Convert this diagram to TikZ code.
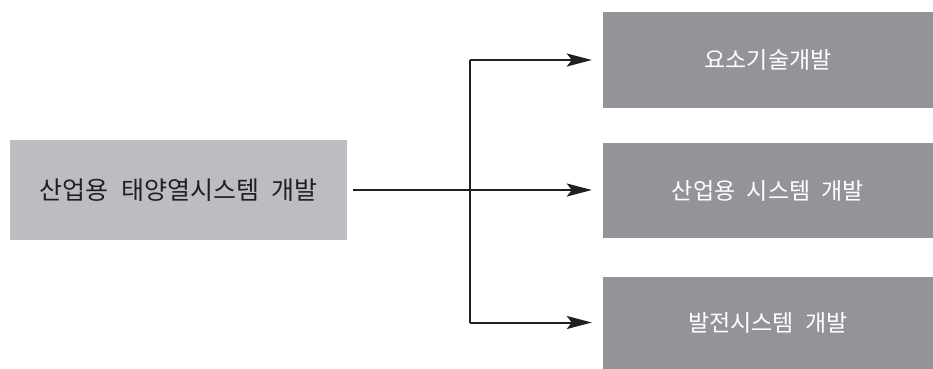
\documentclass[tikz,border=0pt]{standalone}
\usepackage{fontspec}
\setmainfont{Noto Sans CJK KR}
\usetikzlibrary{arrows.meta}
\definecolor{lightbox}{HTML}{BCBDC1}
\definecolor{darkbox}{HTML}{939498}
\definecolor{ink}{HTML}{231F20}
\newcommand{\wsp}{\hspace{0.5em}}
\begin{document}
\begin{tikzpicture}[x=1pt,y=-1pt,
  srcbox/.style={fill=lightbox, draw=none, text=ink, minimum width=337pt, minimum height=100pt, inner sep=0pt, font=\fontsize{25}{28}\selectfont},
  dstbox/.style={fill=darkbox, draw=none, text=white, minimum width=330pt, inner sep=0pt, font=\fontsize{23}{26}\selectfont},
  conn/.style={draw=ink, line width=2pt},
  tip/.style={-{Stealth[length=25pt,width=13pt,inset=5pt]}, shorten >=11pt}]
\useasboundingbox (0,0) rectangle (933,368);
\fill[white] (0,0) rectangle (933,368);
\node[srcbox] (L) at (178.5,190) {산업용\wsp 태양열시스템\wsp 개발};
\node[dstbox, minimum height=96pt] (R1) at (768,60) {요소기술개발};
\node[dstbox, minimum height=95pt] (R2) at (768,190.5) {산업용\wsp 시스템\wsp 개발};
\node[dstbox, minimum height=92pt] (R3) at (768,322.5) {발전시스템\wsp 개발};
\coordinate (J) at (470,190);
\draw[conn, tip, shorten <=6pt] (L.east) -- (L.east -| R2.west);
\draw[conn] (J |- R1.west) -- (J |- R3.west);
\draw[conn, tip] (J |- R1.west) -- (R1.west);
\draw[conn, tip] (J |- R3.west) -- (R3.west);
\end{tikzpicture}
\end{document}
